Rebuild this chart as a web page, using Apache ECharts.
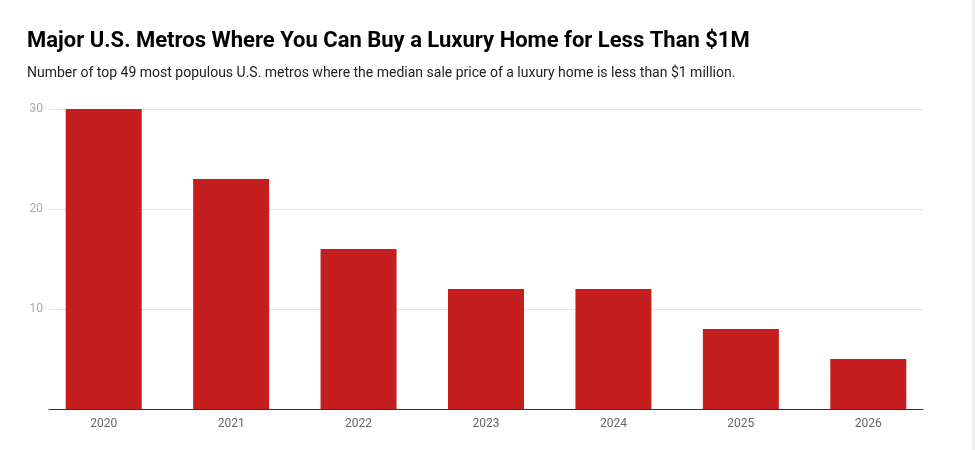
<!DOCTYPE html>
<html>
<head>
<meta charset="utf-8">
<script src="https://cdn.jsdelivr.net/npm/echarts@6/dist/echarts.min.js"></script>
<style>
  html, body { margin: 0; padding: 0; background: #fff; }
  #chart { width: 975px; height: 450px; }
</style>
</head>
<body>
<div id="chart"></div>
<script>
var years = ['2020', '2021', '2022', '2023', '2024', '2025', '2026'];
var metroCounts = [30, 23, 16, 12, 12, 8, 5];
var yTicks = [10, 20, 30];

var chart = echarts.init(document.getElementById('chart'));
// grid 0 holds the bars, grid 1 (slightly inset) holds gridlines, baseline and y labels
var option = {
  animation: false,
  title: {
    text: 'Major U.S. Metros Where You Can Buy a Luxury Home for Less Than $1M',
    subtext: 'Number of top 49 most populous U.S. metros where the median sale price of a luxury home is less than $1 million.',
    left: 22,
    top: 25,
    itemGap: 14,
    textStyle: { fontFamily: 'Roboto', fontSize: 22, fontWeight: 'bold', color: '#000' },
    subtextStyle: { fontFamily: 'Roboto', fontSize: 14, color: '#222' }
  },
  graphic: [{
    type: 'rect',
    right: 0,
    top: 0,
    shape: { width: 3, height: 450 },
    style: { fill: '#efefef' }
  }],
  grid: [
    { left: 40, right: 43, top: 109, bottom: 41 },
    { left: 49, right: 52, top: 109, bottom: 41 }
  ],
  xAxis: [{
    type: 'category',
    gridIndex: 0,
    data: years,
    axisTick: { show: false },
    axisLine: { show: false },
    axisLabel: { fontFamily: 'Roboto', fontSize: 12, color: '#666', margin: 9 }
  }, {
    type: 'category',
    gridIndex: 1,
    data: years,
    axisTick: { show: false },
    axisLabel: { show: false },
    axisLine: { lineStyle: { color: '#333', width: 1 } }
  }],
  yAxis: [{
    type: 'value',
    gridIndex: 0,
    min: 0,
    max: 30,
    interval: 10,
    show: false
  }, {
    type: 'value',
    gridIndex: 1,
    min: 0,
    max: 30,
    interval: 10,
    axisLine: { show: false },
    axisTick: { show: false },
    splitLine: { lineStyle: { color: '#e6e6e6' } },
    axisLabel: {
      fontFamily: 'Roboto', fontSize: 12, color: '#aaa', margin: 6,
      formatter: function (v) { return yTicks.indexOf(v) >= 0 ? String(v) : ''; }
    }
  }],
  series: [{
    type: 'bar',
    xAxisIndex: 0,
    yAxisIndex: 0,
    data: metroCounts,
    barWidth: 76,
    z: 3,
    itemStyle: { color: '#c41e1e' }
  }]
};
chart.setOption(option);
</script>
</body>
</html>
